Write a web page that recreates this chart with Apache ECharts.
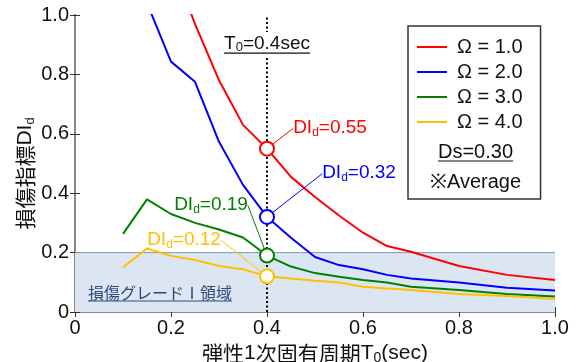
<!DOCTYPE html>
<html>
<head>
<meta charset="utf-8">
<script src="https://cdn.jsdelivr.net/npm/echarts@6/dist/echarts.min.js"></script>
<style>
  html, body { margin: 0; padding: 0; background: #fff; }
  #chart { width: 579px; height: 362px; }
</style>
</head>
<body>
<div id="chart"></div>
<script>
// Elastic first-mode period T0 (sec) and damage index DId for each Ω
const periods = [0.1, 0.15, 0.2, 0.25, 0.3, 0.35, 0.4, 0.45, 0.5, 0.55, 0.6, 0.65, 0.7, 0.8, 0.9, 1.0];
const omega1 = [null, null, 1.18, 0.97, 0.78, 0.63, 0.55, 0.455, 0.387, 0.325, 0.267, 0.222, 0.203, 0.155, 0.125, 0.108];
const omega2 = [null, 1.04, 0.843, 0.775, 0.573, 0.428, 0.32, 0.25, 0.185, 0.158, 0.144, 0.125, 0.113, 0.099, 0.082, 0.072];
const omega3 = [0.263, 0.379, 0.33, 0.30, 0.278, 0.251, 0.19, 0.153, 0.131, 0.119, 0.108, 0.099, 0.085, 0.074, 0.061, 0.052];
const omega4 = [0.15, 0.214, 0.189, 0.175, 0.155, 0.144, 0.12, 0.113, 0.105, 0.099, 0.085, 0.079, 0.074, 0.061, 0.054, 0.044];
const seriesNames = ['Ω = 1.0', 'Ω = 2.0', 'Ω = 3.0', 'Ω = 4.0'];
const gradeLimit = 0.2;     // upper bound of damage grade I
const focusPeriod = 0.4;    // highlighted period
const dsText = 'Ds=0.30';
const noteText = '※Average';
const gradeText = '損傷グレードⅠ領域';

const LATIN = '"Liberation Sans", Arial, sans-serif';
const CJK = '"Noto Sans CJK JP", sans-serif';
const colors = ['#FF0000', '#0000FF', '#008000', '#FFC000'];
const values = [omega1, omega2, omega3, omega4];
const focusIdx = periods.indexOf(focusPeriod);
// label offsets (px) of the DId callouts relative to their circles
const labelShift = [[63, -21], [92, -44], [-56, -51], [-83, -37]];

const chart = echarts.init(document.getElementById('chart'));

const tickFmt = v => (v === 0 ? '0' : v.toFixed(1));

const lineSeries = seriesNames.map((name, i) => ({
  name,
  type: 'line',
  data: periods.map((t, k) => [t, values[i][k]]).filter(p => p[1] !== null),
  symbol: 'none',
  showSymbol: false,
  lineStyle: { color: colors[i], width: 2 },
  itemStyle: { color: colors[i] },
  z: 3,
  animation: false
}));

const calloutRich = c => ({
  a: { fontFamily: LATIN, fontSize: 19, color: c, lineHeight: 22 },
  s: { fontFamily: LATIN, fontSize: 12, color: c, lineHeight: 14, verticalAlign: 'bottom' }
});

const focusSeries = {
  type: 'scatter',
  z: 6,
  symbol: 'circle',
  symbolSize: 14,
  animation: false,
  data: values.map((arr, i) => ({
    value: [focusPeriod, arr[focusIdx]],
    itemStyle: { color: '#fff', opacity: 1, borderColor: colors[i], borderWidth: 2 },
    label: {
      show: true,
      position: 'inside',
      formatter: p => '{a|DI}{s|d}{a|=' + p.value[1].toFixed(2) + '}',
      rich: calloutRich(colors[i])
    },
    labelLine: { show: true, lineStyle: { color: colors[i], width: 1 } }
  })),
  labelLayout: p => ({ dx: labelShift[p.dataIndex][0], dy: labelShift[p.dataIndex][1] })
};

// Grade I band: filled area under the limit line across the period range
const bandSeries = {
  type: 'line',
  data: [[0, gradeLimit], [1, gradeLimit]],
  z: 1,
  silent: true,
  symbol: 'none',
  animation: false,
  lineStyle: { color: '#8097BA', width: 1 },
  areaStyle: { color: '#DCE6F2', opacity: 1 },
  markLine: {
    silent: true,
    symbol: 'none',
    animation: false,
    label: { show: false },
    lineStyle: { color: '#000', type: [2, 2.5], width: 2 },
    data: [{ xAxis: focusPeriod }]
  }
};

const axisFont = { fontFamily: LATIN, fontSize: 20, color: '#111' };

chart.setOption({
  animation: false,
  backgroundColor: '#fff',
  grid: { left: 75, right: 24, top: 15, bottom: 50, outerBoundsMode: 'none', containLabel: false },
  xAxis: [
    {
      type: 'value', min: 0, max: 1, interval: 0.2,
      axisLine: { lineStyle: { color: '#333', width: 1.5 } },
      axisTick: { inside: true, length: 5, lineStyle: { color: '#333' } },
      axisLabel: Object.assign({ margin: 6, formatter: tickFmt }, axisFont),
      splitLine: { show: false },
      name: '{c|弾性}{l|1}{c|次固有周期}{l|T}{s|0}{l|(sec)}',
      nameLocation: 'middle',
      nameGap: 28,
      nameTextStyle: {
        rich: {
          c: { fontFamily: CJK, fontSize: 21, color: '#111', lineHeight: 24 },
          l: { fontFamily: LATIN, fontSize: 21, color: '#111', lineHeight: 24 },
          s: { fontFamily: LATIN, fontSize: 14, color: '#111', lineHeight: 16, verticalAlign: 'bottom' }
        }
      }
    },
    {
      type: 'value', min: 0, max: 1, interval: 0.2, position: 'top',
      axisLine: { lineStyle: { color: '#888', width: 2 } },
      axisTick: { inside: true, length: 5, lineStyle: { color: '#333' } },
      axisLabel: { show: false },
      splitLine: { show: false }
    }
  ],
  yAxis: [
    {
      type: 'value', min: 0, max: 1, interval: 0.2,
      axisLine: { show: true, lineStyle: { color: '#333', width: 1.5 } },
      axisTick: { show: true, inside: true, length: 5, lineStyle: { color: '#333' } },
      axisLabel: Object.assign({ margin: 6, formatter: tickFmt }, axisFont),
      splitLine: { show: false },
      name: '{c|損傷指標}{l|DI}{s|d}',
      nameLocation: 'middle',
      nameRotate: 90,
      nameGap: 38,
      nameMoveOverlap: false,
      nameTextStyle: {
        padding: [0, 20, 0, 0],
        rich: {
          c: { fontFamily: CJK, fontSize: 21, color: '#111', lineHeight: 24 },
          l: { fontFamily: LATIN, fontSize: 21, color: '#111', lineHeight: 24 },
          s: { fontFamily: LATIN, fontSize: 13, color: '#111', lineHeight: 15, verticalAlign: 'bottom' }
        }
      }
    },
    {
      type: 'value', min: 0, max: 1, interval: 0.2, position: 'right',
      axisLine: { show: true, lineStyle: { color: '#888', width: 2 } },
      axisTick: { show: true, inside: true, length: 5, lineStyle: { color: '#333' } },
      axisLabel: { show: false },
      splitLine: { show: false }
    }
  ],
  legend: {
    data: seriesNames,
    orient: 'vertical',
    left: 408,
    top: 26,
    selectedMode: false,
    icon: 'rect',
    itemWidth: 30,
    itemHeight: 2,
    itemGap: 5,
    padding: [11, 18, 67, 9],
    borderColor: '#333',
    borderWidth: 1.5,
    backgroundColor: '#fff',
    textStyle: { fontFamily: LATIN, fontSize: 20, color: '#111', lineHeight: 20, padding: [0, 0, 0, 5] }
  },
  series: [bandSeries].concat(lineSeries, [focusSeries])
});

// Text boxes with underlines, placed from axis coordinates and the legend box
const ctx = document.createElement('canvas').getContext('2d');
const textWidth = (t, size, fam) => { ctx.font = size + 'px ' + fam; return ctx.measureText(t).width; };

const graphics = [];
function underlined(cx, cy, rich, text, width, color, gap) {
  graphics.push({
    type: 'text', z: 100,
    style: { x: cx, y: cy, text: text, rich: rich, align: 'center', verticalAlign: 'middle', fill: color }
  });
  graphics.push({
    type: 'line', z: 101,
    shape: { x1: cx - width / 2, y1: cy + gap, x2: cx + width / 2, y2: cy + gap },
    style: { stroke: color, lineWidth: 1.2 }
  });
}

const p04 = chart.convertToPixel({ xAxisIndex: 0, yAxisIndex: 0 }, [focusPeriod, 0.902]);
const t0Width = textWidth('T', 19, LATIN) + textWidth('0', 13, LATIN) + textWidth('=0.4sec', 19, LATIN);
graphics.push({
  type: 'rect', z: 99,
  shape: { x: p04[0] - t0Width / 2 - 3, y: p04[1] - 12, width: t0Width + 6, height: 24 },
  style: { fill: '#fff' }
});
underlined(p04[0], p04[1],
  {
    a: { fontFamily: LATIN, fontSize: 19, fill: '#111', lineHeight: 20 },
    s: { fontFamily: LATIN, fontSize: 13, fill: '#111', lineHeight: 14, verticalAlign: 'bottom' }
  },
  '{a|T}{s|0}{a|=0.4sec}', t0Width, '#111', 9);

const legendCx = 475.5;
underlined(legendCx, 152, { a: { fontFamily: LATIN, fontSize: 20, fill: '#111' } },
  '{a|' + dsText + '}', textWidth(dsText, 20, LATIN), '#111', 9);
graphics.push({
  type: 'text', z: 100,
  style: { x: legendCx, y: 182, text: noteText, align: 'center', verticalAlign: 'middle',
    font: '20px ' + LATIN, fill: '#111' }
});

const origin = chart.convertToPixel({ xAxisIndex: 0, yAxisIndex: 0 }, [0, 0]);
const gw = textWidth(gradeText, 16, CJK);
underlined(origin[0] + 13 + gw / 2, origin[1] - 19,
  { a: { fontFamily: CJK, fontSize: 16, fill: '#2E4A7D' } },
  '{a|' + gradeText + '}', gw, '#2E4A7D', 8);

chart.setOption({ graphic: graphics });
</script>
</body>
</html>
